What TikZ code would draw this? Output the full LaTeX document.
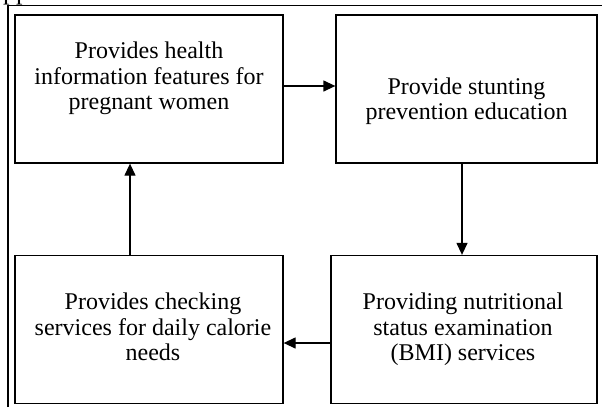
\documentclass[tikz,border=0pt]{standalone}
\usepackage{fontspec}
\setmainfont{Liberation Serif}
\usetikzlibrary{arrows.meta,positioning}

\begin{document}
\begin{tikzpicture}[x=1pt,y=-1pt]
\tikzstyle{every node}+=[inner sep=0pt]
\tikzstyle{box}=[draw=black,line width=1.3pt,minimum height=148pt]
\tikzstyle{txt}=[align=center,anchor=north,font=\fontsize{24}{25.5}\selectfont]
\tikzstyle{link}=[black,line width=1.3pt,-{Triangle[length=12pt,width=11pt]}]
\useasboundingbox (0,0) rectangle (602,407);
% frame
\draw [black,line width=1.2pt] (8,407) -- (8,5.5) -- (602,5.5);
\node [anchor=base,font=\fontsize{26}{26}\selectfont] (pp) at (16,-1) {pp};
% boxes
\node [box,minimum width=268pt] (b1) at (149,89) {};
\node [box,minimum width=261pt] (b2) at (466.5,89) {};
\node [box,minimum width=268pt] (b3) at (149,329.5) {};
\node [box,minimum width=266pt] (b4) at (464,329.5) {};
\node [txt] (t1) at (149,42) {Provides health\\information features for\\pregnant women};
\node [txt] (t2) at (466.5,77.5) {Provide stunting\\prevention education};
\node [txt] (t3) at (153,293) {Provides checking\\services for daily calorie\\needs};
\node [txt] (t4) at (463,293) {Providing nutritional\\status examination\\(BMI) services};
% arrows
\draw [link] ([yshift=3pt]b1.east) -- ([yshift=3pt]b2.west);
\draw [link] ([xshift=-4.5pt]b2.south) -- ([xshift=-4.5pt]b2.south |- b4.north);
\draw [link] ([yshift=-13.5pt]b4.west) -- ([yshift=-13.5pt]b4.west -| b3.east);
\draw [link] ([xshift=-19pt]b3.north) -- ([xshift=-19pt]b3.north |- b1.south);
\end{tikzpicture}
\end{document}
